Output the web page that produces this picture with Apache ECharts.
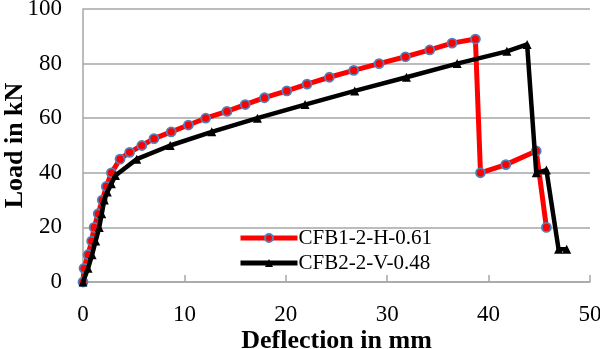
<!DOCTYPE html>
<html>
<head>
<meta charset="utf-8">
<script src="https://cdn.jsdelivr.net/npm/echarts@6/dist/echarts.min.js"></script>
<style>html,body{margin:0;padding:0;background:#fff;}#c{width:600px;height:349px;}</style>
</head>
<body>
<div id="c"></div>
<script>
const redName = 'CFB1-2-H-0.61';
const redX = [0,0.1,0.5,0.85,1.1,1.5,1.9,2.3,2.8,3.65,4.6,5.8,7.0,8.7,10.4,12.1,14.2,16.0,17.9,20.1,22.1,24.3,26.7,29.2,31.8,34.2,36.4,38.7,39.2,41.7,44.7,45.7];
const redY = [0,5,10,15,20,25,30,35,40,45,47.5,50,52.5,55,57.5,60,62.5,65,67.5,70,72.5,75,77.5,80,82.5,85,87.5,89,40,43,48,20];
const blackName = 'CFB2-2-V-0.48';
const blackX = [0,0.5,0.9,1.25,1.6,1.85,2.1,2.4,2.8,3.2,5.3,8.6,12.7,17.2,21.9,26.8,31.9,36.9,41.8,43.8,44.7,45.7,46.9,47.7];
const blackY = [0,5,10,15,20,25,30,33,36,39,45,50,55,60,65,70,75,80,84.5,87,40,41,12,12];
const xTicks = [0,10,20,30,40,50];
const yTicks = [0,20,40,60,80,100];

const FONT = 'Liberation Serif';
const pairs = (xs, ys) => xs.map((x, i) => [x, ys[i]]);

const chart = echarts.init(document.getElementById('c'), null, {renderer: 'canvas'});
chart.setOption({
  animation: false,
  backgroundColor: '#fff',
  textStyle: {fontFamily: FONT, color: '#000'},
  grid: {left: 83, right: 10, top: 9, bottom: 67, containLabel: false, outerBoundsMode: 'none'},
  legend: {
    orient: 'vertical',
    left: 233,
    top: 222,
    itemWidth: 57,
    itemHeight: 10,
    itemGap: 3,
    lineStyle: {width: 5},
    textStyle: {fontFamily: FONT, fontSize: 21, color: '#000', lineHeight: 22, padding: [0, 0, 0, -4]},
    data: [redName, blackName]
  },
  xAxis: {
    type: 'value',
    min: xTicks[0], max: xTicks[xTicks.length - 1], interval: 10,
    axisLine: {show: true, lineStyle: {color: '#a6a6a6', width: 1.5}},
    axisTick: {show: true, inside: true, length: 7, lineStyle: {color: '#a6a6a6', width: 1.5}},
    splitLine: {show: false},
    axisLabel: {fontFamily: FONT, fontSize: 23, color: '#000', margin: 21},
    name: 'Deflection in mm',
    nameLocation: 'middle',
    nameGap: 46,
    nameMoveOverlap: false,
    nameTextStyle: {fontFamily: FONT, fontSize: 26, fontWeight: 'bold', color: '#000'}
  },
  yAxis: {
    type: 'value',
    min: yTicks[0], max: yTicks[yTicks.length - 1], interval: 20,
    axisLine: {show: true, lineStyle: {color: '#a6a6a6', width: 1.5}},
    axisTick: {show: false},
    splitLine: {show: true, lineStyle: {color: '#a6a6a6', width: 1.5}},
    axisLabel: {fontFamily: FONT, fontSize: 23, color: '#000', margin: 21},
    name: 'Load in kN',
    nameLocation: 'middle',
    nameGap: 55,
    nameRotate: 90,
    nameMoveOverlap: false,
    nameTextStyle: {fontFamily: FONT, fontSize: 26, fontWeight: 'bold', color: '#000'}
  },
  series: [
    {
      name: redName,
      type: 'line',
      data: pairs(redX, redY),
      showAllSymbol: true,
      symbol: 'circle',
      symbolSize: 9,
      itemStyle: {color: '#ff0000', borderColor: '#4f81bd', borderWidth: 1.8},
      lineStyle: {color: '#ff0000', width: 5},
      z: 2
    },
    {
      name: blackName,
      type: 'line',
      data: pairs(blackX, blackY),
      showAllSymbol: true,
      symbol: 'triangle',
      symbolSize: 9,
      itemStyle: {color: '#000'},
      lineStyle: {color: '#000', width: 4.5},
      z: 3
    }
  ]
});
</script>
</body>
</html>
